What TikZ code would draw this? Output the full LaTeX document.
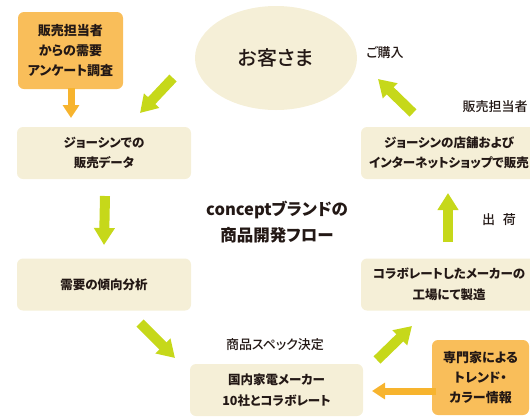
\documentclass[tikz,border=0pt]{standalone}
\usepackage{fontspec}
\setmainfont{Noto Sans CJK JP}[CharacterWidth=AlternateProportional]
\newfontfamily\jpmed{Noto Sans CJK JP Medium}[CharacterWidth=AlternateProportional]
\usetikzlibrary{arrows.meta,shapes.geometric}
\definecolor{cream}{HTML}{F5EFD7}
\definecolor{peach}{HTML}{F9BE5A}
\definecolor{lime}{HTML}{C6D81A}
\definecolor{amber}{HTML}{F7B42E}
\definecolor{ink}{HTML}{231815}
\begin{document}
\begin{tikzpicture}[x=1pt,y=-1pt]
    \tikzstyle{box}=[rectangle,rounded corners=6pt,fill=cream,text=ink,align=center,inner sep=0pt,
      font=\bfseries\fontsize{12.5}{20.5}\selectfont,minimum width=174pt,minimum height=52pt]
    \tikzstyle{info}=[rectangle,rounded corners=6pt,fill=peach,text=ink,align=center,inner sep=0pt,
      font=\bfseries\fontsize{13}{20}\selectfont]
    \tikzstyle{label}=[text=ink,inner sep=0pt,font=\jpmed\fontsize{13}{15}\selectfont]
    \tikzstyle{garrow}=[draw=lime,line width=10pt,-{Triangle[width=20pt,length=17pt]}]
    \tikzstyle{oarrow}=[draw=amber,line width=7pt,-{Triangle[width=16pt,length=13pt]}]
    \useasboundingbox (0,0) rectangle (530,416);

      % nodes
      \node (C) at (276,58) [ellipse,fill=cream,text=ink,minimum width=162pt,minimum height=104pt,
        font=\jpmed\fontsize{20}{22}\selectfont] {お客さま};
      \node (Q) at (70.5,50.5) [info,minimum width=105pt,minimum height=77pt] {販売担当者\\からの需要\\アンケート調査};
      \node (D) at (104,153) [box] {ジョーシンでの\\販売データ};
      \node (A) at (104,284.5) [box] {需要の傾向分析};
      \node (M) at (276.5,390) [box,minimum width=173pt] {国内家電メーカー\\10社とコラボレート};
      \node (F) at (449,284.5) [box,minimum width=176pt] {コラボレートしたメーカーの\\工場にて製造};
      \node (S) at (449,153) [box,minimum width=176pt] {ジョーシンの店舗および\\インターネットショップで販売};
      \node (E) at (480.5,377.5) [info,minimum width=97pt,minimum height=75pt] {専門家による\\トレンド・\\カラー情報};
      \node (T) at (277,222) [text=ink,align=center,font=\bfseries\fontsize{16.5}{25.5}\selectfont] {conceptブランドの\\商品開発フロー};

      \node (L1) at (385,53) [label] {ご購入};
      \node (L2) at (495,107) [label] {販売担当者};
      \node (L3) at (275,345) [label] {商品スペック決定};
      \node (L4) at (499,220) [label] {出\hspace{0.6em}荷};

      % arrow ends
      \coordinate (q1) at (71,88);   \coordinate (q2) at (71,118);
      \coordinate (c1) at (173,78);  \coordinate (c2) at (140,113);
      \coordinate (d1) at (105,196); \coordinate (d2) at (104,245);
      \coordinate (a1) at (140,323); \coordinate (a2) at (175,358);
      \coordinate (m1) at (377,360); \coordinate (m2) at (412,326);
      \coordinate (e1) at (436,391); \coordinate (e2) at (372,391);
      \coordinate (f1) at (448,242); \coordinate (f2) at (448,193);
      \coordinate (s1) at (413,113); \coordinate (s2) at (378,79);

      \path[oarrow] (q1) -- (q2);
      \path[garrow] (c1) -- (c2);
      \path[garrow] (d1) -- (d2);
      \path[garrow] (a1) -- (a2);
      \path[garrow] (m1) -- (m2);
      \path[oarrow] (e1) -- (e2);
      \path[garrow] (f1) -- (f2);
      \path[garrow] (s1) -- (s2);
  \end{tikzpicture}
\end{document}
